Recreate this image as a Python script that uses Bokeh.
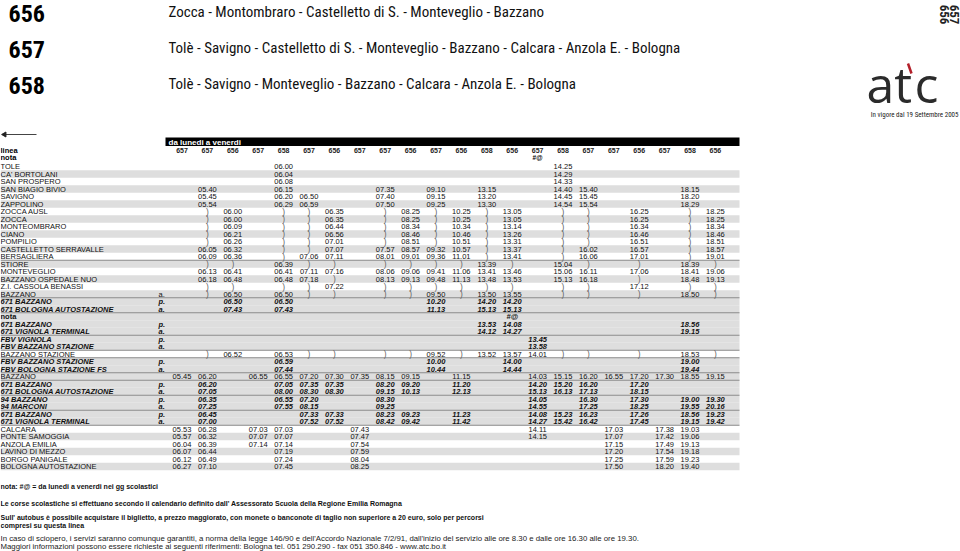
import math
from bokeh.plotting import figure
from bokeh.models import Range1d, ColumnDataSource
from bokeh.core.properties import value
from bokeh.embed import file_html
from bokeh.resources import INLINE

# ---------------- data ----------------
route_nums = ["656", "657", "658"]
route_paths = [
    "Zocca - Montombraro - Castelletto di S. - Monteveglio - Bazzano",
    "Tolè - Savigno  - Castelletto di S. - Monteveglio - Bazzano - Calcara - Anzola E. - Bologna",
    "Tolè - Savigno - Monteveglio - Bazzano - Calcara - Anzola E. - Bologna",
]
side_label = ["656", "657"]
validity = "In vigore dal 19 Settembre 2005"
day_label = "da lunedi a venerdi"
col_lines = "657 657 656 657 658 657 656 657 657 656 657 656 658 656 657 658 657 657 656 657 658 656".split()
col_notes = {14: "#@"}

stops = [
    "TOLE", "CA' BORTOLANI", "SAN PROSPERO", "SAN BIAGIO BIVIO", "SAVIGNO", "ZAPPOLINO",
    "ZOCCA AUSL", "ZOCCA", "MONTEOMBRARO", "CIANO", "POMPILIO", "CASTELLETTO SERRAVALLE",
    "BERSAGLIERA", "STIORE", "MONTEVEGLIO", "BAZZANO OSPEDALE NUO", "Z.I. CASSOLA BENASSI",
    "BAZZANO", "671 BAZZANO", "671 BOLOGNA AUTOSTAZIONE", "nota", "671 BAZZANO",
    "671 VIGNOLA TERMINAL", "FBV VIGNOLA", "FBV BAZZANO STAZIONE", "BAZZANO STAZIONE",
    "FBV BAZZANO STAZIONE", "FBV BOLOGNA STAZIONE FS", "BAZZANO", "671 BAZZANO",
    "671 BOLOGNA AUTOSTAZIONE", "94 BAZZANO", "94 MARCONI", "671 BAZZANO",
    "671 VIGNOLA TERMINAL", "CALCARA", "PONTE SAMOGGIA", "ANZOLA EMILIA",
    "LAVINO DI MEZZO", "BORGO PANIGALE", "BOLOGNA AUTOSTAZIONE",
]
stop_marks = {17: "a.", 18: "p.", 19: "a.", 21: "p.", 22: "a.", 23: "p.", 24: "a.",
              26: "p.", 27: "a.", 29: "p.", 30: "a.", 31: "p.", 32: "a.", 33: "p.", 34: "a."}
connection_rows = [18, 19, 21, 22, 23, 24, 26, 27, 29, 30, 31, 32, 33, 34]
note_rows = [20]
grey_rows = [1, 3, 5, 7, 9, 11, 13, 15, 17, 18, 19, 20, 21, 22, 23, 24, 26, 27, 28,
             29, 30, 31, 32, 33, 34, 36, 38, 40]
rule_rows = [13, 18, 20, 23, 25, 26, 28, 29, 31, 33, 35]

# "column:time" ; ")" = the run does not stop there
cells = [
    "4:06.00 15:14.25",
    "4:06.04 15:14.29",
    "4:06.08 15:14.33",
    "1:05.40 4:06.15 8:07.35 10:09.10 12:13.15 15:14.40 16:15.40 20:18.15",
    "1:05.45 4:06.20 5:06.50 8:07.40 10:09.15 12:13.20 15:14.45 16:15.45 20:18.20",
    "1:05.54 4:06.29 5:06.59 8:07.50 10:09.25 12:13.30 15:14.54 16:15.54 20:18.29",
    "1:) 2:06.00 4:) 5:) 6:06.35 8:) 9:08.25 10:) 11:10.25 12:) 13:13.05 15:) 16:) 18:16.25 20:) 21:18.25",
    "1:) 2:06.00 4:) 5:) 6:06.35 8:) 9:08.25 10:) 11:10.25 12:) 13:13.05 15:) 16:) 18:16.25 20:) 21:18.25",
    "1:) 2:06.09 4:) 5:) 6:06.44 8:) 9:08.34 10:) 11:10.34 12:) 13:13.14 15:) 16:) 18:16.34 20:) 21:18.34",
    "1:) 2:06.21 4:) 5:) 6:06.56 8:) 9:08.46 10:) 11:10.46 12:) 13:13.26 15:) 16:) 18:16.46 20:) 21:18.46",
    "1:) 2:06.26 4:) 5:) 6:07.01 8:) 9:08.51 10:) 11:10.51 12:) 13:13.31 15:) 16:) 18:16.51 20:) 21:18.51",
    "1:06.05 2:06.32 4:) 5:) 6:07.07 8:07.57 9:08.57 10:09.32 11:10.57 12:) 13:13.37 15:) 16:16.02 18:16.57 20:) 21:18.57",
    "1:06.09 2:06.36 4:) 5:07.06 6:07.11 8:08.01 9:09.01 10:09.36 11:11.01 12:) 13:13.41 15:) 16:16.06 18:17.01 20:) 21:19.01",
    "1:) 2:) 4:06.39 5:) 6:) 8:) 9:) 10:) 11:) 12:13.39 13:) 15:15.04 16:) 18:) 20:18.39 21:)",
    "1:06.13 2:06.41 4:06.41 5:07.11 6:07.16 8:08.06 9:09.06 10:09.41 11:11.06 12:13.41 13:13.46 15:15.06 16:16.11 18:17.06 20:18.41 21:19.06",
    "1:06.18 2:06.48 4:06.48 5:07.18 6:) 8:08.13 9:09.13 10:09.48 11:11.13 12:13.48 13:13.53 15:15.13 16:16.18 18:) 20:18.48 21:19.13",
    "1:) 2:) 4:) 5:) 6:07.22 8:) 9:) 10:) 11:) 12:) 13:) 15:) 16:) 18:17.12 20:) 21:)",
    "1:) 2:06.50 4:06.50 5:) 6:) 8:) 9:) 10:09.50 11:) 12:13.50 13:13.55 15:) 16:) 18:) 20:18.50 21:)",
    "2:06.50 4:06.50 10:10.20 12:14.20 13:14.20",
    "2:07.43 4:07.43 10:11.13 12:15.13 13:15.13",
    "13:#@",
    "12:13.53 13:14.08 20:18.56",
    "12:14.12 13:14.27 20:19.15",
    "14:13.45",
    "14:13.58",
    "1:) 2:06.52 4:06.53 5:) 6:) 8:) 9:) 10:09.52 11:) 12:13.52 13:13.57 14:14.01 15:) 16:) 18:) 20:18.53 21:)",
    "4:06.59 10:10.00 13:14.00 20:19.00",
    "4:07.44 10:10.44 13:14.44 20:19.44",
    "0:05.45 1:06.20 3:06.55 4:06.55 5:07.20 6:07.30 7:07.35 8:08.15 9:09.15 11:11.15 14:14.03 15:15.15 16:16.20 17:16.55 18:17.20 19:17.30 20:18.55 21:19.15",
    "1:06.20 4:07.05 5:07.35 6:07.35 8:08.20 9:09.20 11:11.20 14:14.20 15:15.20 16:16.20 18:17.20",
    "1:07.05 4:08.00 5:08.30 6:08.30 8:09.15 9:10.13 11:12.13 14:15.13 15:16.13 16:17.13 18:18.15",
    "1:06.35 4:06.55 5:07.20 8:08.30 14:14.05 16:16.30 18:17.30 20:19.00 21:19.30",
    "1:07.25 4:07.55 5:08.15 8:09.25 14:14.55 16:17.25 18:18.25 20:19.55 21:20.16",
    "1:06.45 5:07.33 6:07.33 8:08.23 9:09.23 11:11.23 14:14.08 15:15.23 16:16.23 18:17.26 20:18.56 21:19.23",
    "1:07.00 5:07.52 6:07.52 8:08.42 9:09.42 11:11.42 14:14.27 15:15.42 16:16.42 18:17.45 20:19.15 21:19.42",
    "0:05.53 1:06.28 3:07.03 4:07.03 7:07.43 14:14.11 17:17.03 19:17.38 20:19.03",
    "0:05.57 1:06.32 3:07.07 4:07.07 7:07.47 14:14.15 17:17.07 19:17.42 20:19.06",
    "0:06.04 1:06.39 3:07.14 4:07.14 7:07.54 17:17.15 19:17.49 20:19.13",
    "0:06.07 1:06.44 4:07.19 7:07.59 17:17.20 19:17.54 20:19.18",
    "0:06.12 1:06.49 4:07.24 7:08.04 17:17.25 19:17.59 20:19.23",
    "0:06.27 1:07.10 4:07.45 7:08.25 17:17.50 19:18.20 20:19.40",
]

footer_bold = [
    "nota:  #@  = da lunedi a venerdi nei gg scolastici",
    "Le corse scolastiche si effettuano secondo il calendario definito dall' Assessorato Scuola della Regione Emilia Romagna",
    "Sull' autobus è possibile acquistare il biglietto, a prezzo maggiorato, con monete o banconote di taglio non superiore a 20 euro, solo per percorsi",
    "compresi su questa linea",
]
footer_plain = [
    "In caso di sciopero, i servizi saranno comunque garantiti, a norma della legge 146/90 e dell'Accordo Nazionale  7/2/91, dall'inizio del servizio alle ore 8.30 e dalle ore 16.30 alle ore 19.30.",
    "Maggiori informazioni possono essere richieste ai seguenti riferimenti: Bologna tel.  051 290.290 -  fax  051 350.846 - www.atc.bo.it",
]

# ---------------- layout ----------------
W, H = 960, 551
X0, DX = 181.5, 25.4       # first time column, column pitch
Y0, DY = 166.0, 7.5        # first stop row, row pitch
TABLE_RIGHT = 739
MARK_X = 158
SANS = value("Liberation Sans")
NARROW = value("Roboto Condensed, DejaVu Sans Condensed, Liberation Sans")

def cx(c):
    return X0 + DX * c

def ry(r):
    return Y0 + DY * r

p = figure(width=W, height=H, x_range=Range1d(0, W), y_range=Range1d(H, 0),
           output_backend="svg", toolbar_location=None, x_axis_type=None,
           y_axis_type=None, min_border=0)
p.grid.visible = False
p.outline_line_color = None
p.background_fill_color = "white"

# row shading
gs = ColumnDataSource(dict(l=[0] * len(grey_rows), r=[TABLE_RIGHT] * len(grey_rows),
                           t=[ry(i) - DY / 2 for i in grey_rows],
                           b=[ry(i) + DY / 2 for i in grey_rows]))
p.quad(left="l", right="r", top="t", bottom="b", source=gs, fill_color="#dedede",
       line_color=None)
rs = ColumnDataSource(dict(x0=[0] * len(rule_rows), x1=[TABLE_RIGHT] * len(rule_rows),
                           y=[ry(i) - DY / 2 for i in rule_rows]))
p.segment(x0="x0", y0="y", x1="x1", y1="y", source=rs, line_color="#8a8a8a", line_width=1)

# header bar
p.quad(left=[165], right=[TABLE_RIGHT], top=[137], bottom=[145.5], fill_color="black",
       line_color=None)
p.text(x=[168], y=[141.5], text=[day_label], text_color="white", text_font=SANS,
       text_font_style="bold", text_font_size="8px", text_baseline="middle")
p.text(x=[0, 0], y=[149.5, 156.5], text=["linea", "nota"], text_font=SANS,
       text_font_style="bold", text_font_size="7.5px", text_baseline="middle")
p.text(x=[cx(i) for i in range(len(col_lines))], y=[149.5] * len(col_lines), text=col_lines,
       text_font=SANS, text_font_style="bold", text_font_size="7px", text_align="center",
       text_baseline="middle", text_color="#222")
p.text(x=[cx(c) for c in col_notes], y=[156.5] * len(col_notes), text=list(col_notes.values()),
       text_font=SANS, text_font_style="bold", text_font_size="6.5px", text_align="center",
       text_baseline="middle")

# small arrow
p.segment(x0=[4], y0=[134], x1=[36], y1=[134], line_color="#444", line_width=1)
p.scatter(x=[4], y=[134], marker="triangle", angle=math.pi / 2, size=5, color="#222")

# stop names
plain = [i for i in range(len(stops)) if i not in connection_rows and i not in note_rows]
p.text(x=[0] * len(plain), y=[ry(i) for i in plain], text=[stops[i] for i in plain],
       text_font=SANS, text_font_size="7.5px", text_baseline="middle", text_color="#111")
p.text(x=[0] * len(connection_rows), y=[ry(i) for i in connection_rows],
       text=[stops[i] for i in connection_rows], text_font=SANS,
       text_font_style="bold italic", text_font_size="7.5px", text_baseline="middle",
       text_color="#111")
p.text(x=[0] * len(note_rows), y=[ry(i) for i in note_rows],
       text=[stops[i] for i in note_rows], text_font=SANS, text_font_style="bold",
       text_font_size="7.5px", text_baseline="middle", text_color="#111")
mk_plain = [i for i in sorted(stop_marks) if i not in connection_rows]
mk_conn = [i for i in sorted(stop_marks) if i in connection_rows]
p.text(x=[MARK_X] * len(mk_plain), y=[ry(i) for i in mk_plain],
       text=[stop_marks[i] for i in mk_plain], text_font=SANS, text_font_size="7.5px",
       text_baseline="middle", text_color="#111")
p.text(x=[MARK_X] * len(mk_conn), y=[ry(i) for i in mk_conn],
       text=[stop_marks[i] for i in mk_conn], text_font=SANS, text_font_style="bold italic",
       text_font_size="7.5px", text_baseline="middle", text_color="#111")

# time cells
groups = {"plain": dict(x=[], y=[], t=[]), "conn": dict(x=[], y=[], t=[]),
          "skip": dict(x=[], y=[], t=[])}
for r, spec in enumerate(cells):
    for tok in spec.split():
        c, v = tok.split(":", 1)
        g = "skip" if v == ")" else ("conn" if r in connection_rows or r in note_rows else "plain")
        groups[g]["x"].append(cx(int(c)))
        groups[g]["y"].append(ry(r))
        groups[g]["t"].append(v)
p.text(x="x", y="y", text="t", source=ColumnDataSource(groups["plain"]), text_font=SANS,
       text_font_size="7.5px", text_align="center", text_baseline="middle", text_color="#111")
p.text(x="x", y="y", text="t", source=ColumnDataSource(groups["conn"]), text_font=SANS,
       text_font_style="bold italic", text_font_size="7.5px", text_align="center",
       text_baseline="middle", text_color="#111")
p.text(x="x", y="y", text="t", source=ColumnDataSource(groups["skip"]), text_font=SANS,
       text_font_size="8.5px", text_align="center", text_baseline="middle", text_color="#666")

# titles
p.text(x=[8] * 3, y=[12.5, 48.5, 84.5], text=route_nums, text_font=NARROW,
       text_font_style="bold", text_font_size="24px", text_baseline="middle")
p.text(x=[168] * 3, y=[11.5, 47.5, 83.5], text=route_paths, text_font=NARROW,
       text_font_size="15px", text_baseline="middle", text_color="#111")
p.text(x=[944, 954], y=[14, 14], text=side_label, text_font=NARROW, text_font_style="bold",
       text_font_size="13px", text_align="center", text_baseline="middle",
       angle=-math.pi / 2, text_color="#222")
p.text(x=[958], y=[114], text=[validity], text_font=NARROW, text_font_size="7px",
       text_align="right", text_baseline="middle", text_color="#222")

# logo
p.text(x=[866], y=[83], text=["at"], text_font=value("Open Sans"), text_font_size="50px",
       text_baseline="middle", text_color="#2b2b2b")
p.text(x=[914], y=[83], text=["c"], text_font=value("Open Sans"), text_font_size="50px",
       text_baseline="middle", text_color="#2b2b2b")
p.segment(x0=[907.5], y0=[63], x1=[911], y1=[73], line_color="#b3202a", line_width=2.5)

# footer
p.text(x=[0] * 4, y=[486, 503, 517, 525], text=footer_bold, text_font=SANS,
       text_font_style="bold", text_font_size="7px", text_baseline="middle", text_color="#111")
p.text(x=[0] * 2, y=[538, 546], text=footer_plain, text_font=SANS,
       text_font_size="7.8px", text_baseline="middle", text_color="#222")

open("out.html", "w").write(file_html(p, INLINE))
